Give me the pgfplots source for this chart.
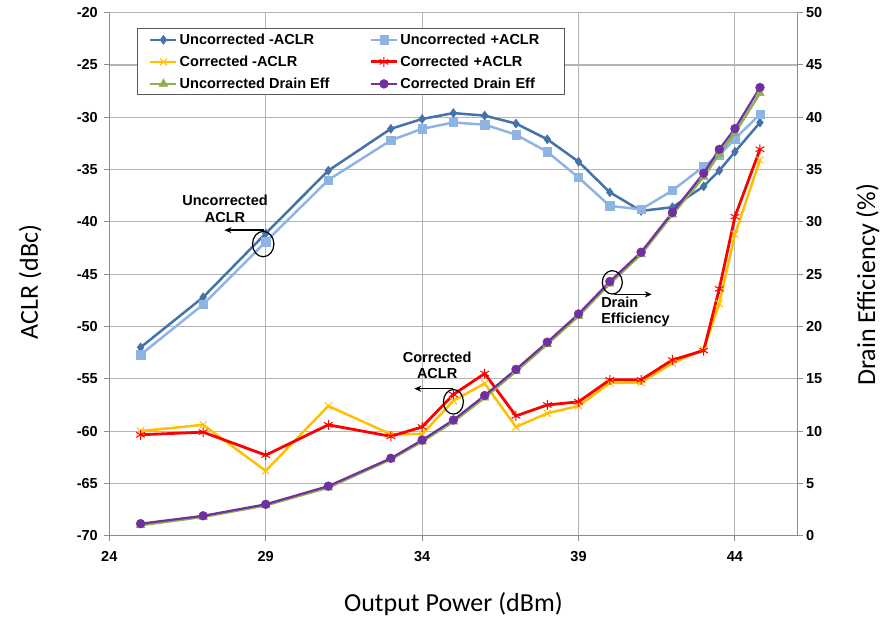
\documentclass[border=0pt]{standalone}
\usepackage{fontspec}
\setmainfont{Liberation Sans}
\newfontfamily\calib{Carlito}
\usepackage{pgfplots}
\pgfplotsset{compat=1.18}
\usetikzlibrary{arrows.meta}
\definecolor{dk}{HTML}{4472AA}
\definecolor{lt}{HTML}{8EB4E3}
\definecolor{yl}{HTML}{FFC000}
\definecolor{rd}{HTML}{FF0000}
\definecolor{gr}{HTML}{8FB050}
\definecolor{pu}{HTML}{7030A0}
\definecolor{gridc}{HTML}{B4B4B4}
\definecolor{axisc}{HTML}{8C8C8C}

\pgfplotstableread{
x dk lt yl rd
25   -52.0  -52.7  -60.0  -60.35
27   -47.2  -47.9  -59.4  -60.1
29   -41.1  -41.9  -63.8  -62.3
31   -35.1  -36.0  -57.6  -59.4
33   -31.1  -32.2  -60.3  -60.5
34   -30.16 -31.1  -60.3  -59.6
35   -29.6  -30.5  -57.1  -56.5
36   -29.84 -30.7  -55.45 -54.5
37   -30.6  -31.66 -59.6  -58.55
38   -32.1  -33.3  -58.3  -57.5
39   -34.24 -35.76 -57.6  -57.2
40   -37.17 -38.47 -55.4  -55.1
41   -38.95 -38.8  -55.35 -55.1
42   -38.6  -37.0  -53.5  -53.2
43   -36.6  -34.7  -52.2  -52.3
43.5 -35.1  -33.6  -47.8  -46.4
44   -33.3  -32.07 -41.2  -39.5
44.8 -30.5  -29.7  -34.1  -33.06
}\aclr

\pgfplotstableread{
x gr pu
25   1.0  1.15
27   1.8  1.9
29   2.9  3.0
31   4.6  4.74
33   7.3  7.4
34   9.0  9.14
35   10.9 11.06
36   13.2 13.4
37   15.7 15.9
38   18.3 18.5
39   21.0 21.2
40   24.1 24.3
41   26.9 27.1
42   30.7 30.9
43   34.3 34.65
43.5 36.5 36.94
44   38.5 38.92
44.8 42.3 42.85
}\eff

\pgfplotsset{
  common/.style={
    at={(109.3pt,84.3pt)}, anchor=south west,
    width=688.2pt, height=523pt, scale only axis,
    xmin=24, xmax=46,
    axis line style={axisc, line width=1pt},
    tick style={axisc, line width=1pt},
    tick align=outside, major tick length=5pt,
    /pgf/number format/assume math mode=true,
    tick label style={font=\fontsize{14.5}{16}\selectfont\bfseries, black},
    label style={font=\fontsize{26}{28}\selectfont\calib, black},
    clip=false,
  },
  lg/.style={legend image code/.code={%
    \draw[mark repeat=2, mark phase=2, ##1] plot coordinates {(0pt,0pt) (13pt,0pt) (26pt,0pt)};}},
}

\begin{document}
\begin{tikzpicture}[x=1pt,y=1pt]
\path[use as bounding box] (0,0) rectangle (888,620);
\begin{axis}[common,
  ymin=-70, ymax=-20,
  xtick={24,29,34,39,44}, ytick={-70,-65,...,-20},
  axis y line*=left, axis x line*=bottom,
  grid=major, major grid style={gridc, line width=1.1pt},
  xticklabel style={yshift=-7pt},
  yticklabel style={xshift=-3pt},
  xlabel={Output Power (dBm)}, ylabel={ACLR (dBc)},
  xlabel style={at={(axis description cs:0.5,-0.130)}, anchor=center},
  ylabel style={at={(axis description cs:-0.115,0.485)}, anchor=center},
]
\addplot[dk, line width=2.5pt, mark=diamond*, mark size=4.5pt, mark options={fill=dk, line width=0.5pt}] table[x=x,y=dk]{\aclr};
\addplot[lt, line width=2.5pt, mark=square*, mark size=4.2pt, mark options={fill=lt, line width=0.5pt}] table[x=x,y=lt]{\aclr};
\addplot[yl, line width=2.5pt, mark=x, mark size=5pt, mark options={line width=1pt}] table[x=x,y=yl]{\aclr};
\addplot[rd, line width=2.8pt, mark=asterisk, mark size=5pt, mark options={line width=1pt}] table[x=x,y=rd]{\aclr};
\end{axis}
\begin{axis}[common,
  ymin=0, ymax=50, ytick={0,5,...,50},
  axis x line=none, axis y line*=right,
  ylabel={Drain Efficiency (\%)},
  ylabel style={at={(axis description cs:1.102,0.48)}, anchor=center},
  legend columns=2,
  legend cell align=left,
  legend style={at={(axis description cs:0.0398,0.970)}, anchor=north west,
    draw=black!65, line width=1pt, fill=white,
    font=\fontsize{14.5}{16}\selectfont\bfseries,
    inner xsep=12pt, inner ysep=3pt, row sep=6pt,
    /tikz/every even column/.append style={column sep=38pt},
    /tikz/column 4/.append style={nodes={text width=150pt, align=left}}},
  lg,
]
\addlegendimage{dk, line width=2.5pt, mark=diamond*, mark size=4.5pt, mark options={fill=dk, line width=0.5pt}}
\addlegendentry{Uncorrected -ACLR}
\addlegendimage{lt, line width=2.5pt, mark=square*, mark size=4.2pt, mark options={fill=lt, line width=0.5pt}}
\addlegendentry{Uncorrected +ACLR}
\addlegendimage{yl, line width=2.5pt, mark=x, mark size=5pt, mark options={line width=1pt}}
\addlegendentry{Corrected -ACLR}
\addlegendimage{rd, line width=2.8pt, mark=asterisk, mark size=5pt, mark options={line width=1pt}}
\addlegendentry{Corrected +ACLR}
\addplot[gr, line width=2.5pt, mark=triangle*, mark size=5pt, mark options={fill=gr, line width=0.5pt}] table[x=x,y=gr]{\eff};
\addlegendentry{Uncorrected Drain Eff}
\addplot[pu, line width=2.2pt, mark=*, mark size=4.4pt, mark options={fill=pu, line width=0.5pt}] table[x=x,y=pu]{\eff};
\addlegendentry{Corrected Drain Eff}
% annotations
\node[align=center, font=\fontsize{14.5}{16.5}\selectfont\bfseries, inner sep=0pt] at (axis cs:27.70,31.27) {Uncorrected\\ACLR};
\draw[-{Stealth[length=7pt,width=6pt]}, line width=1.5pt] (axis cs:28.93,29.21) -- (axis cs:27.68,29.21);
\draw[line width=1.2pt] (axis cs:28.92,27.88) ellipse [x radius=10.7pt, y radius=12.7pt];
\node[align=center, font=\fontsize{14.5}{16.5}\selectfont\bfseries, inner sep=0pt] at (axis cs:34.48,16.31) {Corrected\\ACLR};
\draw[-{Stealth[length=7pt,width=6pt]}, line width=1.5pt] (axis cs:35.0,14.05) -- (axis cs:33.75,14.05);
\draw[line width=1.2pt] (axis cs:35.0,12.8) ellipse [x radius=10pt, y radius=12.3pt];
\node[align=left, anchor=west, font=\fontsize{14.5}{16.5}\selectfont\bfseries, inner sep=0pt] at (axis cs:39.72,21.4) {Drain\\Efficiency};
\draw[-{Stealth[length=7pt,width=6pt]}, line width=1.5pt] (axis cs:40.13,23.07) -- (axis cs:41.34,23.07);
\draw[line width=1.2pt] (axis cs:40.08,24.22) ellipse [x radius=10pt, y radius=11.7pt];
\end{axis}
\end{tikzpicture}
\end{document}
